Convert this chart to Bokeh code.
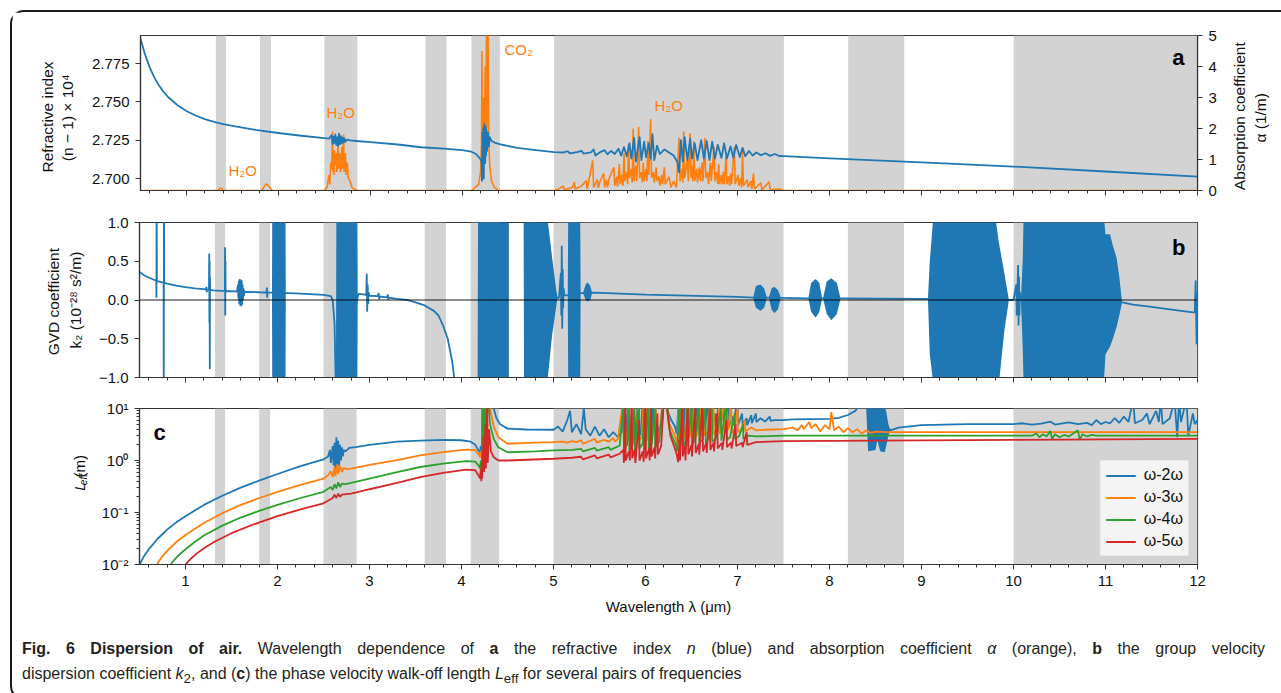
import math
from bokeh.plotting import figure
from bokeh.models import (Range1d, LinearAxis, FixedTicker, BoxAnnotation, Label,
                          Legend, LegendItem, Span, CustomJSTickFormatter, Div,
                          PrintfTickFormatter)
from bokeh.layouts import column, row
from bokeh.embed import file_html
from bokeh.resources import INLINE

FONT = "Liberation Sans"
SPINE = "#333333"
TXT = "#111111"
BLUE, ORANGE, GREEN, RED = "#1f77b4", "#ff7f0e", "#2ca02c", "#d62728"
BAND = "#d3d3d3"

# ------------------------------------------------------------------ data
x_ticks = [1, 2, 3, 4, 5, 6, 7, 8, 9, 10, 11, 12]
band_start = [1.32, 1.80, 2.50, 3.60, 4.10, 5.00, 8.20, 10.00]
band_end = [1.43, 1.92, 2.86, 3.83, 4.41, 7.50, 8.81, 12.00]
n_ticks = [2.700, 2.725, 2.750, 2.775]
alpha_ticks = [0, 1, 2, 3, 4, 5]
k2_ticks = [-1.0, -0.5, 0.0, 0.5, 1.0]
L_ticks = [0.01, 0.1, 1, 10]

# (a) refractive index (n-1) x 1e4
n_curve = [
    (0.50, 2.7913), (0.55, 2.7808), (0.60, 2.7725), (0.65, 2.7660), (0.70, 2.7608),
    (0.75, 2.7566), (0.80, 2.7532), (0.90, 2.7480), (1.00, 2.7441), (1.10, 2.7411),
    (1.20, 2.7388), (1.30, 2.7370), (1.40, 2.7355), (1.50, 2.7343), (1.75, 2.7318),
    (2.00, 2.7297), (2.25, 2.7279), (2.50, 2.7263),
    (2.55, 2.7260), (2.58, 2.7283), (2.59, 2.7225), (2.60, 2.7273), (2.61, 2.7232),
    (2.62, 2.7288), (2.63, 2.7218), (2.64, 2.7270), (2.65, 2.7213), (2.66, 2.7293),
    (2.67, 2.7223), (2.68, 2.7276), (2.69, 2.7230), (2.70, 2.7266), (2.71, 2.7236),
    (2.72, 2.7262), (2.73, 2.7240), (2.75, 2.7254), (2.78, 2.7249), (2.85, 2.7245),
    (3.00, 2.7237), (3.30, 2.7222), (3.55, 2.7204), (3.80, 2.7195), (4.00, 2.7185),
    (4.10, 2.7175), (4.15, 2.7160), (4.18, 2.7140), (4.20, 2.7125), (4.21, 2.7110),
    (4.215, 2.6985), (4.22, 2.7300), (4.225, 2.7050), (4.23, 2.7330), (4.235, 2.7000),
    (4.24, 2.7355), (4.25, 2.7100), (4.255, 2.7340), (4.26, 2.7150), (4.265, 2.7320),
    (4.27, 2.7180), (4.28, 2.7300), (4.29, 2.7210), (4.30, 2.7270), (4.32, 2.7245),
    (4.36, 2.7232), (4.42, 2.7222), (4.60, 2.7200), (4.80, 2.7185), (5.00, 2.7172),
    (5.10, 2.7170), (5.15, 2.7178), (5.17, 2.7164), (5.25, 2.7172), (5.30, 2.7180),
    (5.32, 2.7162), (5.40, 2.7171), (5.43, 2.7190), (5.45, 2.7150), (5.50, 2.7172),
    (5.55, 2.7185), (5.58, 2.7158), (5.62, 2.7180), (5.66, 2.7160), (5.70, 2.7195),
    (5.73, 2.7150), (5.76, 2.7205), (5.79, 2.7145), (5.82, 2.7230), (5.84, 2.7130),
    (5.87, 2.7265), (5.89, 2.7110), (5.93, 2.7270), (5.95, 2.7120), (5.98, 2.7240),
    (6.00, 2.7140), (6.03, 2.7230), (6.05, 2.7130), (6.07, 2.7290), (6.09, 2.7120),
    (6.12, 2.7215), (6.15, 2.7160), (6.20, 2.7190), (6.25, 2.7170), (6.30, 2.7150),
    (6.34, 2.7110), (6.36, 2.7040), (6.38, 2.7250), (6.40, 2.7110), (6.42, 2.7270),
    (6.45, 2.7120), (6.48, 2.7260), (6.50, 2.7130), (6.53, 2.7230), (6.56, 2.7120),
    (6.60, 2.7250), (6.63, 2.7130), (6.66, 2.7245), (6.69, 2.7120), (6.72, 2.7240),
    (6.75, 2.7130), (6.78, 2.7220), (6.82, 2.7135), (6.85, 2.7230), (6.88, 2.7130),
    (6.92, 2.7210), (6.95, 2.7135), (6.98, 2.7220), (7.02, 2.7140), (7.05, 2.7200),
    (7.08, 2.7145), (7.12, 2.7180), (7.16, 2.7150), (7.20, 2.7170), (7.25, 2.7152),
    (7.30, 2.7165), (7.35, 2.7148), (7.40, 2.7160), (7.45, 2.7147), (7.50, 2.7146),
    (8.00, 2.7132), (9.00, 2.7105), (10.00, 2.7078), (11.00, 2.7046), (12.00, 2.7013),
]

# (a) absorption coefficient alpha (1/m)
alpha_curve = [
    (0.50, 0.0), (1.34, 0.0), (1.37, 0.08), (1.40, 0.02), (1.42, 0.0), (1.82, 0.0),
    (1.85, 0.15), (1.87, 0.22), (1.90, 0.12), (1.93, 0.0), (2.50, 0.0), (2.53, 0.1),
    (2.55, 0.5), (2.56, 0.2), (2.57, 0.9), (2.58, 0.7), (2.59, 1.9), (2.595, 0.6),
    (2.60, 1.1), (2.605, 0.5), (2.61, 1.3), (2.62, 0.8), (2.625, 1.0), (2.63, 1.2),
    (2.635, 0.6), (2.64, 0.9), (2.65, 1.6), (2.655, 0.7), (2.66, 1.0), (2.67, 1.2),
    (2.675, 0.6), (2.68, 0.8), (2.69, 1.4), (2.695, 0.7), (2.70, 1.0), (2.71, 1.8),
    (2.715, 0.6), (2.72, 1.1), (2.73, 1.2), (2.735, 0.5), (2.74, 0.7), (2.75, 0.9),
    (2.76, 0.4), (2.78, 0.3), (2.80, 0.1), (2.85, 0.0),
    (4.10, 0.0), (4.18, 0.2), (4.20, 0.6), (4.21, 1.5), (4.215, 4.5), (4.22, 1.0),
    (4.23, 3.0), (4.24, 1.2), (4.25, 4.0), (4.255, 1.5), (4.265, 5.5), (4.27, 2.0),
    (4.28, 5.5), (4.29, 1.5), (4.30, 0.8), (4.32, 0.3), (4.35, 0.1), (4.40, 0.0),
    (5.00, 0.0), (5.05, 0.05), (5.10, 0.15), (5.11, 0.02), (5.20, 0.10), (5.22, 0.27),
    (5.23, 0.05), (5.30, 0.15), (5.35, 0.32), (5.36, 0.05), (5.42, 0.97), (5.43, 0.10),
    (5.47, 0.35), (5.48, 0.08), (5.50, 0.30), (5.54, 0.55), (5.55, 0.10), (5.57, 0.35),
    (5.58, 0.1), (5.60, 0.40), (5.65, 0.75), (5.66, 0.15), (5.68, 0.45), (5.69, 0.12),
    (5.71, 0.85), (5.72, 0.20), (5.74, 0.5), (5.75, 0.15), (5.76, 1.20), (5.77, 0.30),
    (5.79, 0.6), (5.80, 0.2), (5.81, 1.50), (5.82, 0.40), (5.84, 0.7), (5.85, 0.25),
    (5.86, 2.00), (5.87, 0.30), (5.89, 0.8), (5.90, 0.3), (5.92, 2.05), (5.93, 0.40),
    (5.95, 0.6), (5.96, 0.25), (5.97, 0.90), (5.98, 0.30), (6.00, 0.7), (6.01, 0.3),
    (6.02, 1.60), (6.03, 0.50), (6.05, 2.30), (6.06, 0.40), (6.08, 0.6), (6.09, 0.25),
    (6.11, 0.75), (6.12, 0.30), (6.14, 0.45), (6.15, 0.15), (6.17, 0.50), (6.18, 0.20),
    (6.20, 0.75), (6.21, 0.20), (6.25, 0.45), (6.27, 0.10), (6.30, 0.30), (6.33, 0.10),
    (6.36, 1.70), (6.37, 0.30), (6.39, 0.7), (6.40, 0.25), (6.41, 1.90), (6.42, 0.40),
    (6.45, 1.00), (6.46, 0.30), (6.48, 1.85), (6.49, 0.40), (6.50, 0.8), (6.51, 0.3),
    (6.52, 1.60), (6.53, 0.30), (6.55, 0.7), (6.56, 0.25), (6.58, 0.75), (6.59, 0.30),
    (6.61, 0.9), (6.62, 0.3), (6.64, 1.70), (6.65, 0.40), (6.67, 0.6), (6.68, 0.2),
    (6.70, 0.90), (6.71, 0.30), (6.74, 1.40), (6.75, 0.30), (6.77, 0.6), (6.78, 0.2),
    (6.79, 0.85), (6.80, 0.20), (6.82, 0.5), (6.83, 0.2), (6.84, 0.60), (6.85, 0.20),
    (6.87, 1.10), (6.88, 0.20), (6.90, 0.45), (6.91, 0.15), (6.92, 0.55), (6.93, 0.20),
    (6.96, 1.40), (6.97, 0.20), (7.00, 0.50), (7.01, 0.15), (7.03, 0.4), (7.04, 0.1),
    (7.05, 1.30), (7.06, 0.15), (7.10, 0.35), (7.11, 0.10), (7.14, 0.3), (7.15, 0.05),
    (7.17, 0.55), (7.18, 0.05), (7.25, 0.25), (7.26, 0.02), (7.34, 0.28), (7.35, 0.02),
    (7.45, 0.05), (7.50, 0.0), (12.00, 0.0),
]

# (b) GVD coefficient k2 (1e-28 s^2/m) - continuous line
gvd_curve = [
    (0.50, 0.36), (0.55, 0.32), (0.60, 0.29), (0.65, 0.265), (0.682, 0.25), (0.684, 0.03),
    (0.686, 1.5), (0.689, 0.245), (0.74, 0.23), (0.762, 0.225), (0.764, -1.5), (0.766, 1.5),
    (0.769, 0.22), (0.80, 0.21), (0.90, 0.185), (1.00, 0.165), (1.10, 0.15), (1.20, 0.14),
    (1.225, 0.135), (1.228, 0.17), (1.231, 0.10), (1.234, 0.133), (1.255, 0.13), (1.258, 0.60),
    (1.260, -0.30), (1.262, 0.50), (1.264, -0.89), (1.266, 0.30), (1.268, 0.13), (1.30, 0.125),
    (1.40, 0.118), (1.428, 0.117), (1.430, 0.68), (1.432, -0.20), (1.434, 0.50), (1.436, 0.116),
    (1.55, 0.11), (1.56, 0.11), (1.57, 0.20), (1.575, 0.02), (1.58, 0.25), (1.585, -0.05),
    (1.59, 0.27), (1.595, -0.07), (1.60, 0.26), (1.605, -0.08), (1.61, 0.25), (1.615, -0.06),
    (1.62, 0.20), (1.625, 0.0), (1.63, 0.15), (1.635, 0.05), (1.64, 0.12), (1.65, 0.10),
    (1.67, 0.105), (1.80, 0.10), (1.88, 0.097), (1.885, 0.16), (1.888, 0.03), (1.891, 0.098),
    (1.94, 0.095), (2.10, 0.09), (2.20, 0.085), (2.30, 0.08), (2.50, 0.065), (2.58, 0.05),
    (2.60, 0.0), (2.62, -0.3), (2.635, -1.2), (2.88, 0.08), (2.95, 0.07), (2.965, 0.065),
    (2.97, 0.34), (2.975, -0.15), (2.98, 0.20), (2.985, -0.05), (2.99, 0.10), (3.00, 0.055),
    (3.09, 0.05), (3.10, 0.09), (3.105, 0.01), (3.11, 0.045), (3.19, 0.035), (3.20, 0.07),
    (3.205, 0.005), (3.21, 0.03), (3.30, 0.015), (3.41, 0.0), (3.50, -0.03), (3.60, -0.07),
    (3.70, -0.14), (3.75, -0.20), (3.80, -0.33), (3.85, -0.50), (3.90, -0.80), (3.93, -1.10),
    (4.16, -1.5), (4.52, 1.5), (4.66, 1.5), (5.04, 0.02), (5.06, 0.03), (5.08, 0.35),
    (5.085, -0.2), (5.09, 0.70), (5.095, -0.37), (5.10, 0.40), (5.105, -0.10), (5.11, 0.15),
    (5.12, 0.06), (5.15, 0.06), (5.30, 0.09), (5.45, 0.095), (6.00, 0.07), (7.00, 0.04),
    (7.17, 0.03), (7.47, 0.028), (7.77, 0.022), (8.12, 0.02), (9.08, 0.015), (9.95, 0.0),
    (10.00, 0.0), (10.03, 0.20), (10.035, -0.20), (10.05, 0.45), (10.055, -0.33), (10.06, 0.30),
    (10.065, -0.20), (10.07, 0.10), (10.08, 0.0), (11.18, -0.03), (11.30, -0.06), (11.50, -0.09),
    (11.70, -0.12), (11.95, -0.16), (11.97, -0.16), (11.98, 0.25), (11.99, -0.57), (12.00, 0.10),
]

# (b) envelopes of the densely oscillating parts of k2
gvd_block_lam = [
    [1.940, 1.943, 2.087, 2.090],
    [2.635, 2.640, 2.868, 2.872],
    [4.175, 4.180, 4.510, 4.515],
    [4.675, 4.680, 4.930, 4.985, 5.040],
    [5.155, 5.160, 5.290, 5.295],
    [5.32, 5.35, 5.37, 5.40, 5.42],
    [7.17, 7.20, 7.25, 7.29, 7.32],
    [7.34, 7.37, 7.40, 7.44, 7.47],
    [7.77, 7.80, 7.85, 7.89, 7.92],
    [7.93, 7.97, 8.02, 8.08, 8.12],
    [9.07, 9.09, 9.13, 9.80, 9.84, 9.90, 9.95],
    [10.08, 10.10, 10.11, 10.98, 11.00, 11.05, 11.08, 11.12, 11.15, 11.18],
]
gvd_block_lo = [
    [0.095, -1.1, -1.1, 0.09],
    [-1.1, -1.1, -1.1, 0.08],
    [-1.1, -1.1, -1.1, -1.1],
    [1.1, -1.1, -1.1, -0.45, 0.0],
    [0.06, -1.1, -1.1, 0.09],
    [0.09, 0.0, -0.02, 0.0, 0.095],
    [0.03, -0.10, -0.14, -0.10, 0.03],
    [0.03, -0.12, -0.17, -0.12, 0.028],
    [0.022, -0.15, -0.23, -0.15, 0.022],
    [0.022, -0.18, -0.26, -0.18, 0.02],
    [0.015, -0.7, -1.1, -1.1, -1.1, -0.4, 0.0],
    [0.0, -0.6, -1.1, -1.1, -0.7, -0.6, -0.5, -0.35, -0.2, -0.03],
]
gvd_block_hi = [
    [0.095, 1.1, 1.1, 0.09],
    [-1.1, 1.1, 1.1, 0.08],
    [-1.1, 1.1, 1.1, 1.1],
    [1.1, 1.1, 1.1, 0.55, 0.03],
    [0.06, 1.1, 1.1, 0.09],
    [0.09, 0.20, 0.23, 0.18, 0.095],
    [0.03, 0.18, 0.20, 0.15, 0.03],
    [0.03, 0.15, 0.17, 0.13, 0.028],
    [0.022, 0.22, 0.27, 0.22, 0.022],
    [0.022, 0.24, 0.28, 0.22, 0.02],
    [0.015, 0.5, 1.1, 1.1, 0.75, 0.35, 0.0],
    [0.0, 0.5, 1.1, 1.1, 0.85, 0.85, 0.7, 0.55, 0.3, -0.03],
]

# (c) walk-off length L_eff (m)
L_w2 = [
    (0.50, 0.0100), (0.55, 0.0145), (0.60, 0.0195), (0.70, 0.0316), (0.80, 0.0468),
    (0.90, 0.0646), (1.00, 0.085), (1.20, 0.14), (1.40, 0.21), (1.60, 0.30), (1.80, 0.41),
    (2.00, 0.55), (2.25, 0.78), (2.50, 1.05), (2.55, 1.20), (2.57, 1.6), (2.58, 0.9),
    (2.60, 1.9), (2.61, 0.8), (2.62, 2.2), (2.63, 0.7), (2.64, 2.8), (2.65, 0.65),
    (2.66, 2.4), (2.67, 0.8), (2.68, 2.0), (2.69, 1.0), (2.70, 1.8), (2.71, 1.2),
    (2.72, 1.6), (2.74, 1.5), (2.78, 1.75), (2.85, 1.80), (3.00, 2.00), (3.30, 2.30),
    (3.55, 2.42), (3.80, 2.50), (4.00, 2.45), (4.10, 2.30), (4.15, 2.00), (4.18, 1.60),
    (4.20, 1.44), (4.21, 1.90), (4.22, 1.30), (4.23, 15), (4.33, 15), (4.35, 10),
    (4.38, 6.5), (4.42, 5.0), (4.50, 4.1), (4.70, 3.95), (5.00, 3.9), (5.05, 4.5),
    (5.10, 3.6), (5.15, 6.0), (5.18, 9.0), (5.20, 3.5), (5.25, 5.0), (5.30, 3.2),
    (5.33, 10), (5.35, 4.0), (5.40, 3.0), (5.45, 4.5), (5.50, 3.0), (5.55, 4.0),
    (5.60, 2.8), (5.65, 3.5), (5.70, 2.8), (5.74, 3.5), (5.76, 15), (5.765, 3.0),
    (5.79, 3.4), (5.81, 15), (5.815, 2.6), (5.84, 3.6), (5.86, 15), (5.865, 3.0),
    (5.89, 3.8), (5.92, 15), (5.925, 2.8), (5.95, 3.5), (5.97, 15), (5.975, 3.2),
    (6.00, 4.0), (6.02, 15), (6.025, 3.0), (6.05, 15), (6.055, 2.9), (6.08, 15),
    (6.085, 3.5), (6.11, 15), (6.115, 3.2), (6.15, 4.2), (6.18, 5.0), (6.20, 15),
    (6.22, 15), (6.25, 8.0), (6.28, 6.0), (6.32, 4.5), (6.34, 3.2), (6.36, 15),
    (6.365, 2.8), (6.39, 15), (6.395, 3.5), (6.42, 15), (6.425, 3.2), (6.45, 15),
    (6.455, 3.6), (6.48, 15), (6.485, 3.4), (6.52, 15), (6.525, 3.8), (6.56, 15),
    (6.565, 3.6), (6.60, 15), (6.605, 4.0), (6.64, 15), (6.645, 3.9), (6.68, 15),
    (6.685, 4.2), (6.72, 15), (6.725, 4.0), (6.76, 8.0), (6.765, 4.5), (6.80, 15),
    (6.805, 4.2), (6.85, 9.0), (6.855, 4.6), (6.90, 15), (6.905, 4.5), (6.95, 7.0),
    (6.955, 4.8), (7.00, 15), (7.005, 4.7), (7.05, 8.0), (7.055, 5.0), (7.10, 6.5),
    (7.105, 4.8), (7.15, 7.5), (7.155, 5.2), (7.20, 8.0), (7.205, 5.5), (7.25, 6.5),
    (7.30, 5.6), (7.35, 7.0), (7.36, 5.8), (7.40, 6.0), (7.50, 6.0), (7.60, 6.2),
    (8.00, 6.3), (8.10, 6.6), (8.20, 7.5), (8.28, 9.0), (8.34, 12), (8.38, 15),
    (8.66, 3.8), (8.75, 4.3), (8.90, 4.6), (9.00, 4.8), (9.50, 5.0), (10.00, 5.0),
    (10.10, 5.2), (10.20, 4.9), (10.30, 5.1), (10.40, 5.6), (10.45, 4.9), (10.60, 5.4),
    (10.70, 5.0), (10.80, 5.3), (10.85, 4.8), (10.90, 6.0), (10.95, 5.0), (11.00, 5.5),
    (11.05, 5.2), (11.10, 6.5), (11.15, 5.3), (11.20, 7.0), (11.25, 5.5), (11.30, 15),
    (11.32, 5.2), (11.40, 6.0), (11.45, 8.0), (11.48, 5.0), (11.55, 9.0), (11.58, 5.5),
    (11.60, 15), (11.62, 5.0), (11.70, 6.5), (11.75, 15), (11.78, 2.8), (11.80, 15),
    (11.82, 5.5), (11.88, 15), (11.90, 3.0), (11.95, 8.0), (11.97, 5.0), (12.00, 6.0),
]
L_w2_block_lam = [8.40, 8.42, 8.50, 8.52, 8.55, 8.60, 8.62, 8.64, 8.66]
L_w2_block_lo = [9.0, 1.5, 1.6, 2.5, 1.5, 1.44, 2.0, 3.0, 3.8]
L_w2_block_hi = [12, 12, 12, 12, 12, 12, 8.0, 5.0, 3.8]

L_w3 = [
    (0.69, 0.0100), (0.72, 0.0122), (0.76, 0.0152), (0.80, 0.0183), (0.90, 0.0270),
    (1.00, 0.0370), (1.20, 0.063), (1.40, 0.097), (1.60, 0.140), (1.80, 0.19),
    (2.00, 0.25), (2.25, 0.34), (2.50, 0.45), (2.55, 0.52), (2.58, 0.62), (2.60, 0.48),
    (2.62, 0.75), (2.63, 0.50), (2.65, 0.85), (2.66, 0.55), (2.68, 0.78), (2.70, 0.60),
    (2.72, 0.72), (2.75, 0.68), (2.80, 0.70), (3.00, 0.82), (3.30, 1.02), (3.55, 1.25),
    (3.80, 1.45), (4.05, 1.62), (4.15, 1.58), (4.19, 1.30), (4.20, 1.16), (4.21, 1.50),
    (4.22, 1.10), (4.23, 15), (4.24, 3.0), (4.25, 15), (4.26, 4.0), (4.27, 15),
    (4.30, 15), (4.32, 8.0), (4.35, 4.5), (4.40, 2.8), (4.50, 2.1), (4.80, 2.2),
    (5.00, 2.25), (5.10, 2.30), (5.15, 2.20), (5.20, 2.35), (5.25, 2.25), (5.30, 2.45),
    (5.32, 2.10), (5.40, 2.40), (5.45, 2.60), (5.47, 2.20), (5.55, 2.50), (5.60, 2.30),
    (5.65, 2.70), (5.67, 2.30), (5.70, 2.60), (5.76, 15), (5.765, 2.2), (5.80, 2.7),
    (5.82, 15), (5.825, 2.3), (5.86, 2.8), (5.87, 15), (5.875, 2.2), (5.90, 2.7),
    (5.92, 15), (5.925, 2.4), (5.96, 2.8), (5.98, 15), (5.985, 2.3), (6.01, 15),
    (6.015, 2.4), (6.05, 15), (6.055, 2.2), (6.08, 3.0), (6.11, 15), (6.115, 2.6),
    (6.15, 3.2), (6.19, 15), (6.22, 15), (6.26, 5.0), (6.30, 3.6), (6.33, 2.6),
    (6.345, 2.0), (6.36, 15), (6.365, 2.2), (6.40, 15), (6.405, 2.4), (6.43, 3.2),
    (6.45, 15), (6.455, 2.6), (6.49, 15), (6.495, 2.8), (6.53, 15), (6.535, 2.6),
    (6.57, 3.4), (6.60, 15), (6.605, 2.8), (6.64, 15), (6.645, 3.0), (6.68, 3.6),
    (6.70, 15), (6.705, 3.0), (6.74, 15), (6.745, 3.2), (6.78, 3.6), (6.80, 12),
    (6.805, 3.2), (6.86, 15), (6.865, 3.4), (6.90, 4.0), (6.93, 15), (6.935, 3.3),
    (6.97, 4.2), (7.00, 10), (7.005, 3.5), (7.05, 4.0), (7.08, 6.0), (7.085, 3.6),
    (7.15, 4.3), (7.20, 3.8), (7.30, 3.9), (7.50, 4.0), (7.60, 4.3), (7.65, 3.8),
    (7.70, 4.8), (7.72, 4.0), (7.78, 5.5), (7.80, 4.2), (7.85, 5.0), (7.90, 3.6),
    (7.95, 4.8), (8.00, 4.0), (8.02, 8.5), (8.05, 3.8), (8.10, 4.5), (8.15, 3.5),
    (8.20, 4.2), (8.25, 3.5), (8.30, 4.0), (8.35, 3.3), (8.40, 3.8), (8.45, 3.4),
    (8.50, 3.6), (8.60, 3.5), (9.00, 3.5), (12.00, 3.5),
]

L_w4 = [
    (0.84, 0.0100), (0.87, 0.0118), (0.90, 0.0135), (0.95, 0.0165), (1.00, 0.0196),
    (1.10, 0.027), (1.20, 0.036), (1.40, 0.056), (1.60, 0.080), (1.80, 0.107),
    (2.00, 0.14), (2.25, 0.19), (2.50, 0.25), (2.58, 0.31), (2.60, 0.27), (2.62, 0.35),
    (2.64, 0.29), (2.66, 0.38), (2.68, 0.31), (2.70, 0.36), (2.74, 0.35), (2.80, 0.37),
    (3.00, 0.45), (3.30, 0.60), (3.55, 0.75), (3.80, 0.87), (4.05, 0.97), (4.15, 0.95),
    (4.19, 0.78), (4.20, 0.70), (4.21, 1.00), (4.22, 0.65), (4.23, 15), (4.235, 1.5),
    (4.25, 15), (4.255, 2.0), (4.27, 15), (4.29, 15), (4.31, 5.0), (4.35, 2.6),
    (4.40, 1.8), (4.50, 1.44), (4.80, 1.50), (5.00, 1.56), (5.20, 1.60), (5.30, 1.68),
    (5.32, 1.50), (5.45, 1.75), (5.47, 1.55), (5.60, 1.80), (5.62, 1.60), (5.72, 1.94),
    (5.76, 15), (5.765, 1.6), (5.80, 2.0), (5.82, 15), (5.825, 1.5), (5.86, 2.0),
    (5.88, 15), (5.885, 1.6), (5.93, 15), (5.935, 1.7), (5.97, 2.1), (5.99, 15),
    (5.995, 1.6), (6.03, 15), (6.035, 1.7), (6.07, 2.2), (6.10, 15), (6.105, 1.8),
    (6.15, 2.3), (6.19, 15), (6.22, 15), (6.26, 4.0), (6.30, 2.6), (6.33, 2.0),
    (6.345, 1.5), (6.37, 15), (6.375, 1.6), (6.41, 15), (6.415, 1.8), (6.44, 2.4),
    (6.46, 15), (6.465, 1.9), (6.50, 15), (6.505, 2.0), (6.54, 2.5), (6.58, 15),
    (6.585, 2.1), (6.62, 2.6), (6.65, 15), (6.655, 2.2), (6.69, 2.7), (6.72, 15),
    (6.725, 2.3), (6.77, 2.7), (6.82, 10), (6.825, 2.4), (6.88, 15), (6.885, 2.5),
    (6.92, 2.8), (6.97, 8.0), (6.975, 2.6), (7.02, 3.0), (7.06, 5.0), (7.065, 2.6),
    (7.12, 3.0), (7.20, 2.9), (7.50, 3.0), (8.00, 3.0), (10.00, 3.0), (10.20, 3.0),
    (10.25, 3.3), (10.28, 2.8), (10.32, 3.2), (10.36, 2.9), (10.40, 3.7), (10.42, 2.6),
    (10.45, 3.2), (10.50, 2.8), (10.55, 3.1), (10.60, 2.9), (10.65, 3.3), (10.70, 3.8),
    (10.72, 2.5), (10.75, 3.2), (10.80, 2.9), (10.85, 3.1), (10.90, 3.0), (12.00, 3.0),
]

L_w5 = [
    (1.00, 0.0100), (1.03, 0.0115), (1.07, 0.0135), (1.12, 0.0162), (1.20, 0.0205),
    (1.31, 0.027), (1.50, 0.040), (1.75, 0.060), (2.00, 0.085), (2.25, 0.115),
    (2.50, 0.15), (2.60, 0.19), (2.62, 0.22), (2.64, 0.19), (2.66, 0.23), (2.68, 0.20),
    (2.70, 0.22), (2.80, 0.23), (3.00, 0.28), (3.30, 0.37), (3.55, 0.48), (3.80, 0.58),
    (4.05, 0.67), (4.15, 0.65), (4.19, 0.50), (4.20, 0.45), (4.21, 0.70), (4.215, 0.40),
    (4.22, 0.90), (4.225, 0.45), (4.24, 3.0), (4.245, 0.6), (4.26, 5.0), (4.265, 0.7),
    (4.28, 15), (4.285, 0.9), (4.30, 4.0), (4.32, 1.5), (4.35, 1.15), (4.40, 1.00),
    (4.50, 1.00), (5.00, 1.08), (5.20, 1.13), (5.30, 1.18), (5.32, 1.05), (5.45, 1.25),
    (5.47, 1.10), (5.60, 1.30), (5.62, 1.15), (5.72, 1.35), (5.76, 1.6), (5.765, 0.9),
    (5.78, 15), (5.785, 1.0), (5.82, 1.5), (5.83, 1.0), (5.85, 15), (5.855, 1.1),
    (5.88, 1.6), (5.89, 0.9), (5.93, 6.0), (5.935, 1.0), (5.97, 1.5), (5.98, 0.95),
    (6.00, 15), (6.005, 1.1), (6.04, 1.7), (6.045, 1.0), (6.06, 15), (6.065, 1.2),
    (6.10, 1.8), (6.105, 1.1), (6.13, 8.0), (6.135, 1.3), (6.17, 1.9), (6.20, 15),
    (6.23, 12), (6.27, 3.0), (6.31, 1.9), (6.34, 1.3), (6.355, 0.93), (6.37, 2.5),
    (6.375, 1.0), (6.40, 15), (6.405, 1.2), (6.43, 1.9), (6.435, 1.0), (6.46, 15),
    (6.465, 1.3), (6.50, 2.0), (6.505, 1.2), (6.54, 12), (6.545, 1.4), (6.58, 2.1),
    (6.585, 1.3), (6.62, 15), (6.625, 1.5), (6.66, 2.2), (6.665, 1.4), (6.70, 10),
    (6.705, 1.6), (6.74, 2.2), (6.745, 1.5), (6.78, 8.0), (6.785, 1.7), (6.83, 2.2),
    (6.835, 1.6), (6.88, 6.0), (6.885, 1.8), (6.93, 2.2), (6.935, 1.7), (6.98, 5.0),
    (6.985, 1.9), (7.05, 2.2), (7.055, 1.8), (7.10, 3.5), (7.105, 2.0), (7.20, 2.25),
    (7.50, 2.35), (8.00, 2.38), (10.00, 2.5), (12.00, 2.6),
]

legend_labels = ["\u03c9-2\u03c9", "\u03c9-3\u03c9", "\u03c9-4\u03c9", "\u03c9-5\u03c9"]

# ------------------------------------------------------------------ layout constants
TL_W, TR_W = 76, 56
MAIN_W = 1269 - TL_W - TR_W
MB_L, MB_R = 51, 28

x_minor = [round(0.6 + 0.2 * i, 1) for i in range(58)
           if abs((0.6 + 0.2 * i) - round(0.6 + 0.2 * i)) > 1e-6]
log_minor = [m * 10.0 ** e for e in (-2, -1, 0) for m in range(2, 10)]


def xy(pairs):
    return [p[0] for p in pairs], [p[1] for p in pairs]


def base_fig(height, top, bottom, y_range, y_axis_type="linear"):
    p = figure(width=MAIN_W, height=height, x_range=Range1d(0.5, 12), y_range=y_range,
               y_axis_type=y_axis_type, output_backend="svg", toolbar_location=None,
               min_border_left=MB_L, min_border_right=MB_R, min_border_top=top,
               min_border_bottom=bottom)
    p.grid.visible = False
    p.outline_line_color = SPINE
    p.outline_line_width = 1.2
    p.background_fill_color = "white"
    p.border_fill_color = "white"
    for s, e in zip(band_start, band_end):
        p.add_layout(BoxAnnotation(left=s, right=e, fill_color=BAND, fill_alpha=1.0,
                                   line_alpha=0, level="underlay"))
    p.xaxis.ticker = FixedTicker(ticks=x_ticks, minor_ticks=x_minor)
    return p


def side_fig(width, height):
    t = figure(width=width, height=height, x_range=Range1d(0, width), y_range=Range1d(0, height),
               x_axis_type=None, y_axis_type=None, output_backend="svg", toolbar_location=None,
               min_border=0, min_border_left=0, min_border_right=0, min_border_top=0,
               min_border_bottom=0)
    t.outline_line_color = None
    t.background_fill_color = "white"
    t.border_fill_color = "white"
    return t


def style_axis(ax):
    ax.major_tick_in = 0
    ax.major_tick_out = 5
    ax.minor_tick_in = 0
    ax.minor_tick_out = 3
    ax.axis_line_color = SPINE
    ax.axis_line_width = 1.2
    ax.major_tick_line_color = SPINE
    ax.minor_tick_line_color = SPINE
    ax.major_label_text_font = FONT
    ax.major_label_text_font_size = "15px"
    ax.major_label_text_color = TXT
    ax.major_label_standoff = 6


def hide_labels(ax):
    ax.major_label_text_font_size = "0px"
    ax.major_label_text_color = None
    ax.major_label_standoff = 0


def vtext(t, text, x, y, size="15.5px", style="normal", align="center"):
    t.add_layout(Label(x=x, y=y, text=text, angle=math.pi / 2, text_align=align,
                       text_baseline="middle", text_font=FONT, text_font_size=size,
                       text_font_style=style, text_color=TXT))


def letter(p, text, x, y, align):
    p.add_layout(Label(x=x, y=y, x_units="screen", y_units="screen", text=text,
                       text_align=align, text_baseline="alphabetic", text_font=FONT,
                       text_font_size="22px", text_font_style="bold", text_color="black"))


# ------------------------------------------------------------------ panel a
HA = 194
pa = base_fig(HA, 23, 16, Range1d(2.6922, 2.7933))
pa.extra_y_ranges = {"alpha": Range1d(0, 5)}
pa.yaxis.ticker = FixedTicker(ticks=n_ticks, minor_ticks=[])
pa.yaxis.formatter = PrintfTickFormatter(format="%.3f")
ax_r = LinearAxis(y_range_name="alpha", ticker=FixedTicker(ticks=alpha_ticks, minor_ticks=[]))
pa.add_layout(ax_r, "right")
for ax in pa.axis:
    style_axis(ax)
hide_labels(pa.xaxis[0])

alx, aly = xy(alpha_curve)
pa.line(alx, aly, y_range_name="alpha", line_color=ORANGE, line_width=1.6, line_join="bevel")
nx_, ny_ = xy(n_curve)
pa.line(nx_, ny_, line_color=BLUE, line_width=1.8, line_join="round")

for txt, x, y in [("H\u2082O", 88, 20), ("H\u2082O", 186, 78), ("CO\u2082", 364, 141), ("H\u2082O", 514, 85)]:
    pa.add_layout(Label(x=x, y=y, x_units="screen", y_units="screen", text=txt,
                        text_font=FONT, text_font_size="15px", text_color=ORANGE,
                        text_baseline="alphabetic"))
letter(pa, "a", 1044, 133, "right")

ta_l = side_fig(TL_W, HA)
vtext(ta_l, "Refractive index", 35, 92)
vtext(ta_l, "(n \u2212 1) \u00d7 10\u2074", 55, 91)
ta_r = side_fig(TR_W, HA)
vtext(ta_r, "Absorption coefficient", 14, 93)
vtext(ta_r, "\u03b1 (1/m)", 35, 91)

# ------------------------------------------------------------------ panel b
HB = 186
pb = base_fig(HB, 16, 15, Range1d(-1, 1))
pb.yaxis.ticker = FixedTicker(ticks=k2_ticks, minor_ticks=[])
pb.yaxis.formatter = CustomJSTickFormatter(
    code="return (tick < 0 ? '\\u2212' : '') + Math.abs(tick).toFixed(1);")
for ax in pb.axis:
    style_axis(ax)
hide_labels(pb.xaxis[0])
pb.add_layout(Span(location=0, dimension="width", line_color="black", line_width=0.9))
for lam, lo, hi in zip(gvd_block_lam, gvd_block_lo, gvd_block_hi):
    pb.varea(x=lam, y1=lo, y2=hi, fill_color=BLUE, fill_alpha=1.0)
gx_, gy_ = xy(gvd_curve)
pb.line(gx_, gy_, line_color=BLUE, line_width=1.8, line_join="bevel")
letter(pb, "b", 1046, 130, "right")

tb_l = side_fig(TL_W, HB)
vtext(tb_l, "GVD coefficient", 41, 91)
vtext(tb_l, "k\u2082 (10\u207b\u00b2\u2078 s\u00b2/m)", 63, 93)
tb_r = side_fig(TR_W, HB)

# ------------------------------------------------------------------ panel c
HC = 233
pc = base_fig(HC, 16, 61, Range1d(0.01, 10), y_axis_type="log")
pc.yaxis.ticker = FixedTicker(ticks=L_ticks, minor_ticks=log_minor)
pc.yaxis.formatter = CustomJSTickFormatter(code="""
const e = Math.round(Math.log10(tick));
const m = {'-': '\\u207b', '0': '\\u2070', '1': '\\u00b9', '2': '\\u00b2'};
return '10' + String(e).split('').map(c => m[c]).join('');
""")
for ax in pc.axis:
    style_axis(ax)
pc.xaxis.axis_label = "Wavelength \u03bb (\u03bcm)"
pc.xaxis.axis_label_text_font = FONT
pc.xaxis.axis_label_text_font_size = "15px"
pc.xaxis.axis_label_text_font_style = "normal"
pc.xaxis.axis_label_text_color = TXT
pc.xaxis.axis_label_standoff = 9

rend = []
pc.varea(x=L_w2_block_lam, y1=L_w2_block_lo, y2=L_w2_block_hi, fill_color=BLUE, fill_alpha=1.0)
for data, col in [(L_w2, BLUE), (L_w3, ORANGE), (L_w4, GREEN), (L_w5, RED)]:
    lx, ly = xy(data)
    rend.append(pc.line(lx, ly, line_color=col, line_width=1.8, line_join="bevel"))

legend = Legend(items=[LegendItem(label=lab, renderers=[r]) for lab, r in zip(legend_labels, rend)],
                location="bottom_right", label_text_font=FONT, label_text_font_size="16px",
                label_text_color=TXT, glyph_width=30, glyph_height=17, label_height=17,
                spacing=4, padding=5, margin=8, label_standoff=8,
                background_fill_color="#f4f4f4", background_fill_alpha=1.0,
                border_line_color="#d9d9d9", border_line_width=1)
pc.add_layout(legend)
letter(pc, "c", 14, 132, "left")

tc_l = side_fig(TL_W, HC)
vtext(tc_l, "L", 67, 110, size="15px", style="italic", align="left")
vtext(tc_l, "eff", 71, 118.5, size="10px", style="italic", align="left")
vtext(tc_l, " (m)", 67, 130, size="15px", align="left")
tc_r = side_fig(TR_W, HC)

# ------------------------------------------------------------------ caption
caption_html = (
    "<div style='width:1243px;text-align:justify;text-align-last:justify;'>"
    "<b>Fig. 6 Dispersion of air.</b> Wavelength dependence of <b>a</b> the refractive index "
    "<i>n</i> (blue) and absorption coefficient <i>\u03b1</i> (orange), <b>b</b> the group velocity"
    "</div><div style='width:1243px;text-align:left;'>"
    "dispersion coefficient <i>k</i><sub>2</sub>, and (<b>c</b>) the phase velocity walk-off length "
    "<i>L</i><sub>eff</sub> for several pairs of frequencies</div>"
)
cap = Div(text=caption_html, width=1269, height=63,
          styles={"font-family": "'Liberation Sans', sans-serif",
                  "font-size": "16px", "color": "#231f20", "line-height": "25px",
                  "padding-left": "5px", "padding-top": "6px"})

layout = column(row(ta_l, pa, ta_r), row(tb_l, pb, tb_r), row(tc_l, pc, tc_r), cap,
                margin=(10, 0, 0, 10),
                styles={"border-left": "2px solid #1a1a1a", "border-top": "2px solid #1a1a1a",
                        "border-bottom": "2px solid #1a1a1a", "border-top-left-radius": "14px",
                        "border-bottom-left-radius": "14px", "background-color": "white"})

open("out.html", "w").write(file_html(layout, INLINE))
